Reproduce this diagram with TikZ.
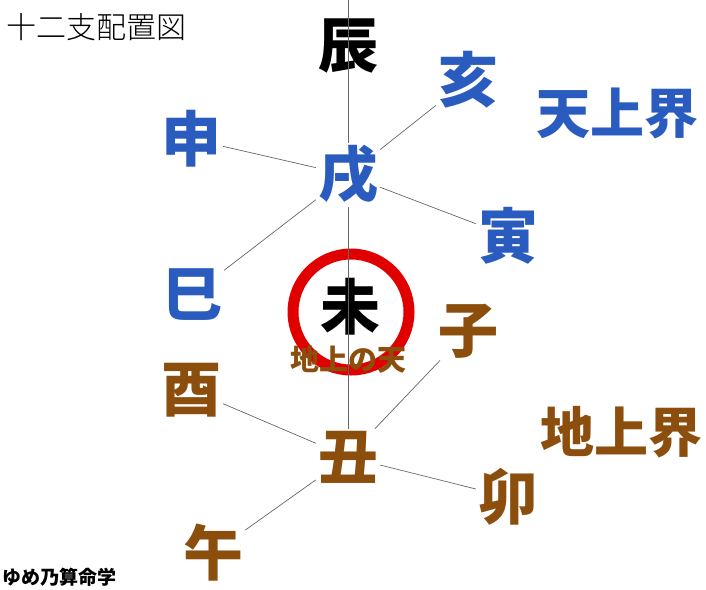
\documentclass[tikz,border=0pt]{standalone}
\usepackage{fontspec}
\newfontfamily\jp{Noto Sans CJK JP}
\newfontfamily\jplight{Noto Sans CJK JP Light}
\definecolor{tenblue}{HTML}{2A5CBF}
\definecolor{chibrown}{HTML}{8B4E0C}
\definecolor{meired}{HTML}{E00000}

\begin{document}
\begin{tikzpicture}[x=1pt,y=-1pt]
      \useasboundingbox (0,0) rectangle (706,589);
      \coordinate (top) at (348,0);
      \draw[meired,line width=11pt] (351,312) circle[radius=58];
      \begin{scope}[every node/.style={font=\fontsize{60}{60}\selectfont\jp\bfseries,inner sep=2pt}]
        \node (chen) at (348,46) {辰};
        \node[color=tenblue] (hai) at (468,80) {亥};
        \node[color=tenblue] (shen) at (191,139) {申};
        \node[color=tenblue] (xu) at (348,175) {戌};
        \node[color=tenblue] (yin) at (508,236) {寅};
        \node[color=tenblue] (si) at (192,295) {巳};
        \node (wei) at (350,307) {未};
        \node[color=chibrown] (zi) at (468,331) {子};
        \node[color=chibrown] (you) at (191,390) {酉};
        \node[color=chibrown] (chou) at (348,457) {丑};
        \node[color=chibrown] (mao) at (508,497) {卯};
        \node[color=chibrown] (wu) at (213,553) {午};
      \end{scope}
      \begin{scope}[every node/.style={font=\fontsize{54}{54}\selectfont\jp\bfseries}]
        \node[color=tenblue] (tenjo) at (617,113) {天上界};
        \node[color=chibrown] (chijo) at (621,432) {地上界};
      \end{scope}
      \node[color=chibrown,font=\fontsize{29}{29}\selectfont\jp\bfseries] (chinoten) at (348,360) {地上の天};
      \node[font=\fontsize{30}{30}\selectfont\jplight] (title) at (96,27) {十二支配置図};
      \node[font=\fontsize{19}{19}\selectfont\jp\bfseries] (sign) at (59,577) {ゆめ乃算命学};
      \begin{scope}[every edge/.style={draw,gray!80!black,line width=0.7pt}]
        \path (top) edge (xu);
        \path (xu) edge (chou);
        \path (shen) edge (xu);
        \path (hai) edge (xu);
        \path (xu) edge (yin);
        \path (xu) edge (si);
        \path (you) edge (chou);
        \path (zi) edge (chou);
        \path (chou) edge (mao);
        \path (chou) edge (wu);
      \end{scope}
    \end{tikzpicture}
\end{document}
